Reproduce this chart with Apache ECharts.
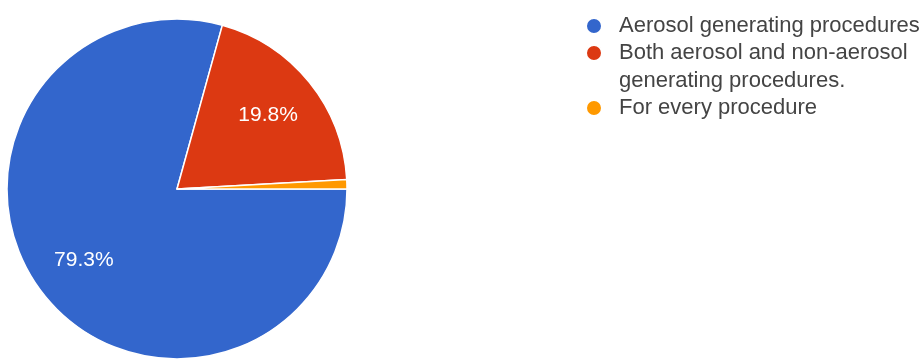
<!DOCTYPE html>
<html>
<head>
<meta charset="utf-8">
<script src="https://cdn.jsdelivr.net/npm/echarts@6/dist/echarts.min.js"></script>
<style>
html,body{margin:0;padding:0;background:#fff;}
#c{width:924px;height:360px;}
</style>
</head>
<body>
<div id="c"></div>
<script>
const categories = [
  'Aerosol generating procedures',
  'Both aerosol and non-aerosol\ngenerating procedures.',
  'For every procedure'
];
const values = [79.3, 19.8, 0.9];
const colors = ['#3366cc', '#dc3912', '#ff9900'];

const chart = echarts.init(document.getElementById('c'), null, {renderer: 'canvas'});
const data = categories.map((n, i) => ({name: n, value: values[i]}));
const font = 'Arial, "Liberation Sans", sans-serif';

function legendFor(i, top, leadLine) {
  return {
    orient: 'vertical',
    left: 580,
    top: top,
    icon: 'circle',
    itemWidth: 16,
    itemHeight: 16,
    selectedMode: false,
    data: [categories[i]],
    formatter: name => (leadLine ? ' \n' : '') + name,
    textStyle: {
      fontFamily: font,
      fontSize: 22,
      color: '#444',
      lineHeight: 28,
      padding: [0, 0, 0, 12]
    }
  };
}

chart.setOption({
  animation: false,
  color: colors,
  legend: [
    legendFor(0, 7, false),
    legendFor(1, 6, true),
    legendFor(2, 89, false)
  ],
  series: [
    {
      type: 'pie',
      center: [177, 189],
      radius: [0, 170],
      startAngle: 0,
      clockwise: true,
      silent: true,
      label: {show: false},
      labelLine: {show: false},
      itemStyle: {borderColor: '#fff', borderWidth: 1.5},
      data: data
    },
    {
      type: 'pie',
      center: [177, 189],
      radius: [58, 170],
      startAngle: 0,
      clockwise: true,
      silent: true,
      minShowLabelAngle: 10,
      itemStyle: {color: 'rgba(0,0,0,0)', borderWidth: 0},
      label: {
        show: true,
        position: 'inside',
        fontFamily: font,
        fontSize: 21,
        color: '#fff',
        formatter: p => p.value.toFixed(1) + '%'
      },
      labelLine: {show: false},
      data: data
    }
  ]
});
</script>
</body>
</html>
